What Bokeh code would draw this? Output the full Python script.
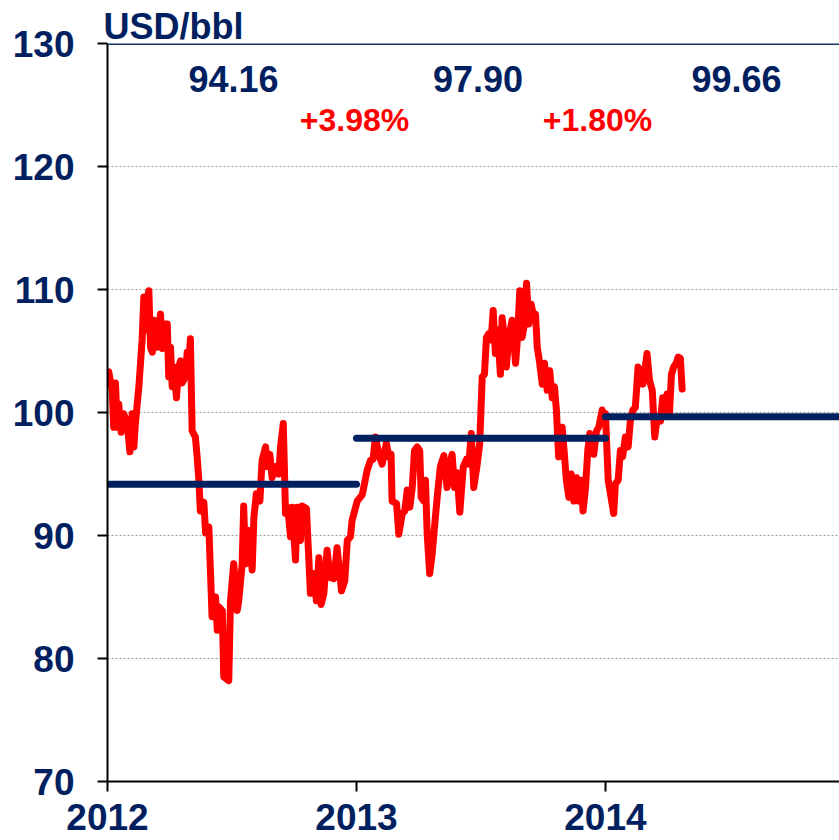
from bokeh.plotting import figure
from bokeh.models import Range1d, Span, Label, FixedTicker, Title
from bokeh.embed import file_html
from bokeh.resources import INLINE

# ---- data ----
# time offset in years from 2012-01-01
t_offset = [0.005, 0.019, 0.025, 0.032, 0.039, 0.045, 0.055, 0.065, 0.079, 0.090,
            0.099, 0.106, 0.112, 0.126, 0.139, 0.146, 0.153, 0.159, 0.166, 0.173,
            0.180, 0.186, 0.197, 0.206, 0.213, 0.220, 0.226, 0.240, 0.246, 0.253,
            0.260, 0.266, 0.277, 0.286, 0.293, 0.300, 0.313, 0.320, 0.327, 0.333,
            0.340, 0.353, 0.360, 0.367, 0.373, 0.387, 0.394, 0.407, 0.420, 0.434,
            0.441, 0.447, 0.461, 0.467, 0.487, 0.494, 0.507, 0.521, 0.527, 0.541,
            0.547, 0.554, 0.567, 0.581, 0.588, 0.598, 0.612, 0.621, 0.635, 0.641,
            0.652, 0.661, 0.675, 0.688, 0.695, 0.706, 0.715, 0.724, 0.735, 0.742,
            0.755, 0.762, 0.775, 0.782, 0.799, 0.815, 0.829, 0.839, 0.849, 0.858,
            0.869, 0.882, 0.893, 0.909, 0.922, 0.940, 0.953, 0.963, 0.976, 0.982,
            1.003, 1.023, 1.043, 1.056, 1.067, 1.076, 1.090, 1.103, 1.120, 1.130,
            1.139, 1.143, 1.161, 1.170, 1.184, 1.194, 1.204, 1.214, 1.224, 1.233,
            1.244, 1.254, 1.260, 1.270, 1.277, 1.284, 1.294, 1.304, 1.317, 1.327,
            1.337, 1.351, 1.364, 1.375, 1.384, 1.394, 1.404, 1.415, 1.429, 1.442,
            1.451, 1.461, 1.471, 1.485, 1.495, 1.505, 1.514, 1.522, 1.531, 1.541,
            1.549, 1.558, 1.567, 1.578, 1.585, 1.594, 1.602, 1.612, 1.625, 1.639,
            1.645, 1.656, 1.665, 1.675, 1.683, 1.692, 1.702, 1.712, 1.719, 1.726,
            1.736, 1.746, 1.755, 1.766, 1.776, 1.786, 1.795, 1.803, 1.812, 1.826,
            1.835, 1.843, 1.853, 1.862, 1.873, 1.884, 1.893, 1.902, 1.910, 1.920,
            1.929, 1.937, 1.947, 1.953, 1.964, 1.973, 1.987, 1.996, 2.000, 2.011,
            2.020, 2.033, 2.040, 2.051, 2.060, 2.069, 2.080, 2.091, 2.100, 2.110,
            2.120, 2.131, 2.141, 2.150, 2.158, 2.167, 2.177, 2.188, 2.198, 2.208,
            2.221, 2.230, 2.238, 2.248, 2.257, 2.265, 2.274, 2.284, 2.292, 2.301,
            2.308]
price = [103.3, 101.8, 98.8, 102.4, 98.8, 100.7, 98.4, 99.9, 99.1, 96.8,
         99.9, 97.2, 99.1, 102.1, 105.9, 109.4, 106.7, 109.1, 109.9, 105.3,
         104.9, 107.5, 105.3, 106.9, 108.0, 105.2, 107.2, 107.2, 102.9, 105.3,
         102.1, 103.7, 101.2, 103.7, 104.2, 102.4, 102.9, 104.9, 104.2, 106.0,
         98.5, 98.0, 96.4, 94.5, 92.0, 92.7, 90.2, 90.7, 83.4, 85.0,
         82.3, 84.2, 83.9, 78.5, 78.2, 84.7, 87.7, 83.9, 84.7, 87.7,
         92.4, 87.7, 90.4, 87.2, 91.5, 93.4, 92.8, 96.1, 97.2, 95.6,
         96.6, 94.7, 95.6, 95.0, 97.2, 99.1, 91.8, 92.3, 89.9, 92.3,
         88.0, 92.3, 89.6, 92.4, 92.2, 85.3, 86.9, 84.7, 88.2, 84.4,
         85.3, 88.8, 86.6, 86.5, 89.0, 85.5, 86.3, 89.6, 89.9, 91.2,
         92.8, 93.3, 95.3, 96.1, 96.2, 98.0, 96.6, 95.8, 97.5, 96.4,
         96.6, 92.8, 92.6, 90.1, 91.8, 92.0, 93.7, 92.3, 93.9, 96.9,
         97.2, 96.9, 93.1, 92.8, 94.5, 90.1, 86.9, 88.5, 91.5, 93.7,
         95.6, 96.5, 93.9, 95.8, 96.6, 93.9, 95.1, 91.9, 95.6, 96.2,
         95.8, 98.3, 93.9, 95.8, 97.5, 102.9, 103.1, 106.1, 106.4, 105.9,
         108.3, 104.8, 106.7, 103.1, 107.7, 106.1, 103.7, 106.1, 107.5, 104.0,
         105.6, 109.9, 106.1, 107.2, 110.5, 107.2, 108.8, 107.7, 108.0, 105.3,
         104.0, 102.3, 104.0, 101.8, 103.4, 101.2, 102.1, 100.2, 96.4, 98.8,
         96.6, 94.5, 93.1, 95.0, 92.8, 94.7, 92.8, 94.5, 92.0, 93.9,
         96.9, 98.3, 98.0, 96.6, 98.5, 98.8, 100.2, 99.3, 99.9, 94.5,
         93.4, 91.8, 94.2, 94.5, 96.9, 96.4, 98.0, 97.2, 99.3, 100.2,
         100.4, 103.7, 103.1, 102.3, 103.4, 104.8, 102.6, 101.8, 98.0, 99.6,
         99.3, 101.2, 99.9, 101.5, 99.9, 103.1, 103.7, 104.0, 104.5, 104.4,
         101.9]
t = [2012 + v for v in t_offset]

avg_start = [2012, 2013, 2014]
avg_end = [2013, 2014, 2015]
avg_value = [94.16, 97.90, 99.66]
avg_text = ["94.16", "97.90", "99.66"]
avg_text_x = [2012.506, 2013.488, 2014.526]
chg_text = ["+3.98%", "+1.80%"]
chg_text_x = [2012.992, 2013.968]
y_ticks = [70, 80, 90, 100, 110, 120, 130]
grid_ticks = [80, 90, 100, 110, 120]
x_ticks = [2012, 2013, 2014]
x_tick_labels = ["2012", "2013", "2014"]
unit_text = "USD/bbl"

NAVY = "#002060"
RED = "#FF0000"
FONT = "Liberation Sans"

p = figure(width=839, height=840, x_range=Range1d(2012, 2014.94), y_range=Range1d(70, 130),
           output_backend="svg", toolbar_location=None, title=None,
           min_border_left=107, min_border_right=0, min_border_top=43, min_border_bottom=59)
p.outline_line_color = None
p.background_fill_color = "white"
p.border_fill_color = "white"

p.xgrid.visible = False
p.ygrid.ticker = FixedTicker(ticks=grid_ticks)
p.ygrid.grid_line_color = "#9a9a9a"
p.ygrid.grid_line_dash = "2 2"
p.ygrid.grid_line_width = 1

for ax in (p.xaxis[0], p.yaxis[0]):
    ax.axis_line_color = "black"
    ax.axis_line_width = 2
    ax.major_tick_line_color = "black"
    ax.major_tick_line_width = 2
    ax.major_tick_in = 0
    ax.major_tick_out = 10
    ax.minor_tick_line_color = None
    ax.major_label_text_font = FONT
    ax.major_label_text_font_style = "bold"
    ax.major_label_text_font_size = "37px"
    ax.major_label_text_color = NAVY

p.yaxis.ticker = FixedTicker(ticks=y_ticks)
p.yaxis.major_label_standoff = 23
p.xaxis.ticker = FixedTicker(ticks=x_ticks)
p.xaxis.major_label_overrides = {k: v for k, v in zip(x_ticks, x_tick_labels)}
p.xaxis.major_label_standoff = 12
p.xaxis.major_label_text_line_height = 0.8

# unit title above the plot area
p.add_layout(Title(text=unit_text, align="left", offset=-4, standoff=-6,
                   text_font=FONT, text_font_style="bold", text_font_size="36px",
                   text_color=NAVY), "above")

# top border line
p.add_layout(Span(location=130, dimension="width", line_color="#17375E", line_width=3))

# price line
p.line(t, price, line_color=RED, line_width=7, line_join="round", line_cap="round")

# yearly averages
p.segment(x0=avg_start, y0=avg_value, x1=avg_end, y1=avg_value,
          line_color=NAVY, line_width=7, line_cap="round")

for x, s in zip(avg_text_x, avg_text):
    p.add_layout(Label(x=x, y=127.1, text=s, text_align="center", text_baseline="alphabetic",
                       text_font=FONT, text_font_style="bold", text_font_size="36px",
                       text_color=NAVY))
for x, s in zip(chg_text_x, chg_text):
    p.add_layout(Label(x=x, y=123.8, text=s, text_align="center", text_baseline="alphabetic",
                       text_font=FONT, text_font_style="bold", text_font_size="32px",
                       text_color=RED))

open("out.html", "w").write(file_html(p, INLINE))
